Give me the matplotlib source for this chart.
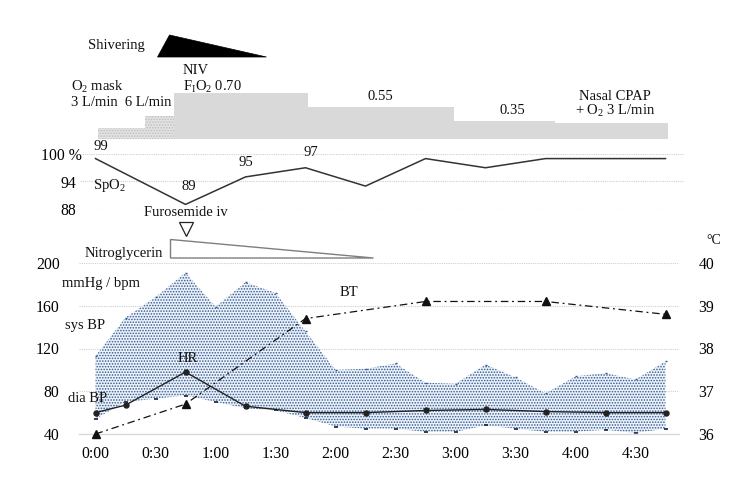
import matplotlib
matplotlib.use("Agg")
import matplotlib.pyplot as plt
from matplotlib import transforms
from matplotlib.patches import Polygon

# ---------------- data ----------------
bp_time = [0, 15, 30, 45, 60, 75, 90, 105, 120, 135, 150, 165, 180, 195, 210, 225, 240, 255, 270, 285]
sys_bp = [113, 149, 168, 191, 159, 182, 172, 136, 100, 101, 106, 88, 87, 105, 93, 78, 94, 97, 91, 108]
dia_bp = [54, 70, 73, 76, 70, 64, 62, 55, 47, 45, 45, 42, 42, 48, 45, 42, 42, 44, 41, 45]

hr_time = [0, 15, 45, 75, 105, 135, 165, 195, 225, 255, 285]
hr = [60, 67, 98, 66, 60, 60, 62, 63, 61, 60, 60]

bt_time = [0, 45, 105, 165, 225, 285]
bt = [36.0, 36.7, 38.7, 39.1, 39.1, 38.8]

spo2_time = [0, 45, 75, 105, 135, 165, 195, 225, 255, 285]
spo2 = [99, 89, 95, 97, 93, 99, 97, 99, 99, 99]
spo2_labelled = [0, 1, 2, 3]

o2_start = [1, 24.5, 39, 106, 179, 229.5]
o2_end = [24.5, 39, 106, 179, 229.5, 286]
o2_level = [0.25, 0.50, 1.00, 0.71, 0.39, 0.34]   # relative bar heights
o2_mask = [True, True, False, False, False, False]

shiver_time = [31, 37, 85.5]      # onset, peak, end
furosemide_time = 45
ntg_time = [37.5, 139]            # start, end

xtick_min = [0, 30, 60, 90, 120, 150, 180, 210, 240, 270]
xtick_labels = ["0:00", "0:30", "1:00", "1:30", "2:00", "2:30", "3:00", "3:30", "4:00", "4:30"]
bp_ticks = [40, 80, 120, 160, 200]
bt_ticks = [36, 37, 38, 39, 40]
spo2_ticks = [88, 94, 100]
spo2_ticklabels = ["88", "94", "100 %"]

# ---------------- style ----------------
plt.rcParams["font.family"] = ["Liberation Serif", "DejaVu Serif"]
plt.rcParams["mathtext.fontset"] = "custom"
plt.rcParams["mathtext.rm"] = "Liberation Serif"
plt.rcParams["mathtext.it"] = "Liberation Serif:italic"
plt.rcParams["hatch.linewidth"] = 0.75

W, H = 750, 491
fig = plt.figure(figsize=(7.5, 4.91), dpi=100)

def box(x0, y0, x1, y1):
    return [x0 / W, 1 - y1 / H, (x1 - x0) / W, (y1 - y0) / H]

def ptext(x, y, s, ha="left", size=10.5, **kw):
    fig.text(x / W, 1 - y / H, s, ha=ha, va="center", fontsize=size, color="#111111", **kw)

X0 = 95.5     # pixel of 0:00
PPM = 2.0     # pixels per minute
def tlim(px0, px1):
    return ((px0 - X0) / PPM, (px1 - X0) / PPM)

TICK = 11.3

# ---------------- O2 / ventilation panel ----------------
ax_o2 = fig.add_axes(box(80, 20, 685, 139))
ax_o2.set_xlim(*tlim(80, 685))
ax_o2.set_ylim(0, 2.604)
ax_o2.axis("off")
for s, e, lv, m in zip(o2_start, o2_end, o2_level, o2_mask):
    if m:
        ax_o2.bar(s, lv, width=e - s, align="edge", color="#e3e3e3",
                  edgecolor="#bcbcbc", linewidth=0, hatch="......")
    else:
        ax_o2.bar(s, lv, width=e - s, align="edge", color="#d9d9d9", linewidth=0)

blend = transforms.blended_transform_factory(ax_o2.transData, ax_o2.transAxes)
shiv = Polygon([(shiver_time[0], 0.689), (shiver_time[1], 0.874), (shiver_time[2], 0.689)],
               closed=True, facecolor="black", edgecolor="black", lw=0.5,
               transform=blend, clip_on=False)
ax_o2.add_patch(shiv)

ptext(88, 45, "Shivering")
ptext(71, 87, r"O$_\mathregular{2}$ mask")
ptext(71, 102, "3 L/min  6 L/min")
ptext(183, 71, "NIV")
ptext(183, 87, r"F$_\mathregular{I}$O$_\mathregular{2}$ 0.70")
ptext(380, 97, "0.55", ha="center")
ptext(512, 111, "0.35", ha="center")
ptext(615, 97, "Nasal CPAP", ha="center")
ptext(615, 111, r"+ O$_\mathregular{2}$ 3 L/min", ha="center")

# ---------------- SpO2 panel ----------------
ax_s = fig.add_axes(box(80, 154, 685, 209))
ax_s.set_xlim(*tlim(80, 685))
ax_s.set_ylim(88, 100)
for sp in ax_s.spines.values():
    sp.set_visible(False)
ax_s.set_xticks([])
ax_s.set_yticks(spo2_ticks)
ax_s.set_yticklabels(spo2_ticklabels, fontsize=TICK)
ax_s.tick_params(axis="y", length=0, pad=3)
ax_s.grid(axis="y", color="#cfcfcf", linestyle=(0, (1, 1)), linewidth=0.8)
lab = ax_s.get_yticklabels()[-1]
lab.set_transform(lab.get_transform() + transforms.ScaledTranslation(6 / 100, 0, fig.dpi_scale_trans))
ax_s.plot(spo2_time, spo2, color="#333333", lw=1.1, clip_on=False)
offs = [(5, 6), (3, 11), (0, 8), (5, 9)]
for i, (dx, dy) in zip(spo2_labelled, offs):
    ax_s.annotate(str(spo2[i]), (spo2_time[i], spo2[i]), xytext=(dx * 0.72, dy * 0.72),
                  textcoords="offset points", ha="center", va="bottom",
                  fontsize=10.5, color="#111111", annotation_clip=False)
ptext(93, 185, r"SpO$_\mathregular{2}$")

# ---------------- BP / HR / BT panel ----------------
ax = fig.add_axes(box(79, 263, 679, 434))
ax.set_xlim(*tlim(79, 679))
ax.set_ylim(40, 200)
for k in ["top", "right", "left"]:
    ax.spines[k].set_visible(False)
ax.spines["bottom"].set_color("#d9d9d9")
ax.spines["bottom"].set_linewidth(1.0)
ax.set_xticks(xtick_min)
ax.set_xticklabels(xtick_labels, fontsize=TICK)
ax.set_yticks(bp_ticks)
ax.set_yticklabels([str(v) for v in bp_ticks], fontsize=TICK)
ax.tick_params(axis="both", length=0)
ax.tick_params(axis="y", pad=14)
ax.tick_params(axis="x", pad=9)
for v in bp_ticks[1:]:
    ax.axhline(v, color="#cfcfcf", linestyle=(0, (1, 1)), linewidth=0.8, zorder=0)

ax.fill_between(bp_time, dia_bp, sys_bp, facecolor="#eef2f8", edgecolor="#2f5a96",
                linewidth=0, hatch="......", zorder=1)
ax.plot(bp_time, sys_bp, linestyle="none", marker="_", ms=2, mew=1.0, color="#2f5a96", zorder=2)
ax.plot(bp_time, dia_bp, linestyle="none", marker="_", ms=3.5, mew=1.3, color="#1f2f4a", zorder=2)
ax.plot(hr_time, hr, color="#222222", lw=1.0, marker="o", ms=3.6, zorder=4)

ax2 = ax.twinx()
ax2.set_position(box(79, 263, 679, 434))
ax2.set_ylim(36, 40)
for sp in ax2.spines.values():
    sp.set_visible(False)
ax2.set_yticks(bt_ticks)
ax2.set_yticklabels([str(v) for v in bt_ticks], fontsize=TICK)
ax2.tick_params(axis="y", length=0, pad=14)
ax2.plot(bt_time, bt, color="#111111", lw=0.9, linestyle=(0, (6, 3, 1.5, 3)),
         marker="^", ms=6, clip_on=False, zorder=5)

ptext(62, 284, "mmHg / bpm")
ptext(65, 325, "sys BP")
ptext(68, 399, "dia BP")
ptext(187.5, 359, "HR", ha="center")
ptext(349, 293, "BT", ha="center")
ptext(706, 241, "°C", size=10)

# ---------------- drug annotations ----------------
bl = transforms.blended_transform_factory(ax.transData, fig.transFigure)
fy = lambda py: 1 - py / H
ax.plot([furosemide_time], [fy(229)], marker="v", ms=10, mfc="white", mec="#222222",
        mew=0.9, transform=bl, clip_on=False)
ptext(186, 213, "Furosemide iv", ha="center")
ntg = Polygon([(ntg_time[0], fy(239.5)), (ntg_time[1], fy(258)), (ntg_time[0], fy(258))],
              closed=True, facecolor="white", edgecolor="#7f7f7f", lw=1.0,
              transform=bl, clip_on=False)
ax.add_patch(ntg)
ptext(85, 253, "Nitroglycerin")

fig.savefig("out.png", dpi=100)
